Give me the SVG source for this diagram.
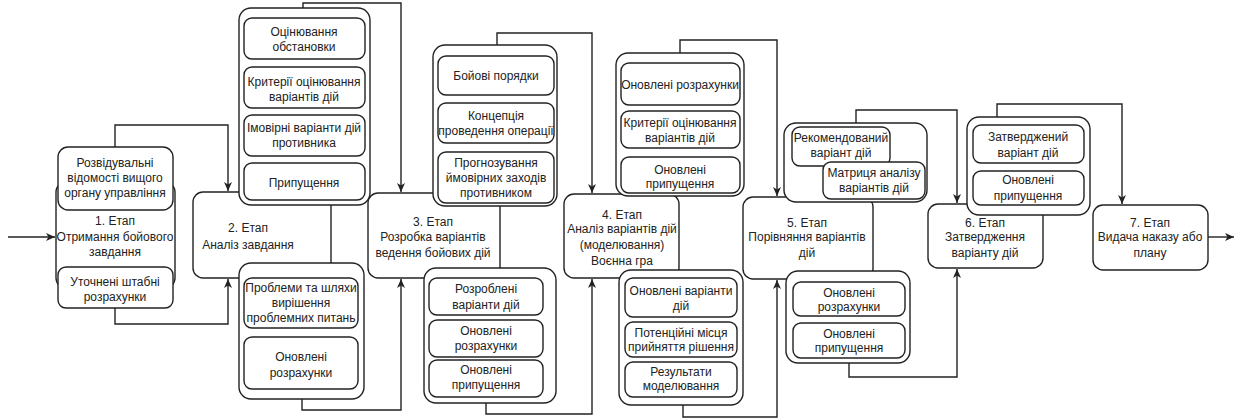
<svg xmlns="http://www.w3.org/2000/svg" width="1240" height="419" viewBox="0 0 1240 419">
<style>
.b{fill:#fff;stroke:#222;stroke-width:1.4}
.c{fill:none;stroke:#222;stroke-width:1.4}
text{font-family:"Liberation Sans",Arial,sans-serif;font-size:12px;fill:#222;text-anchor:middle}
</style>
<defs>
<marker id="a" markerUnits="userSpaceOnUse" markerWidth="10" markerHeight="10" viewBox="0 0 10 10" refX="9" refY="5" orient="auto">
<path d="M0,1 L9,5 L0,9 L2.5,5 Z" fill="#222"/>
</marker>
</defs>
<rect width="1240" height="419" fill="#fff"/>
<g id="connectors">
<path class="c" d="M8,237 H55" marker-end="url(#a)"/>
<path class="c" d="M115,147 V125 H228 V191" marker-end="url(#a)"/>
<path class="c" d="M115,308 V324 H228 V279" marker-end="url(#a)"/>
<path class="c" d="M303,8 V3 H401 V192" marker-end="url(#a)"/>
<path class="c" d="M302,399 V410 H401 V279" marker-end="url(#a)"/>
<path class="c" d="M497,45 V33 H592 V193" marker-end="url(#a)"/>
<path class="c" d="M486,403 V414 H592 V279" marker-end="url(#a)"/>
<path class="c" d="M680,53 V40 H777 V196" marker-end="url(#a)"/>
<path class="c" d="M683,405 V417 H777 V280" marker-end="url(#a)"/>
<path class="c" d="M856,123 V110 H957 V203" marker-end="url(#a)"/>
<path class="c" d="M849,363 V377 H957 V269" marker-end="url(#a)"/>
<path class="c" d="M997,117 V104 H1122 V204" marker-end="url(#a)"/>
<path class="c" d="M1208,237 H1234" marker-end="url(#a)"/>
</g>
<g id="stage1">
<rect class="b" x="56" y="182" width="119" height="106" rx="10"/>
<text x="115" y="225">1. Етап</text>
<text x="115" y="241">Отримання бойового</text>
<text x="115" y="256">завдання</text>
</g>
<g id="stage1-in">
<rect class="b" x="58" y="147" width="115" height="63" rx="10"/>
<text x="115" y="167">Розвідувальні</text>
<text x="115" y="182">відомості вищого</text>
<text x="115" y="197">органу управління</text>
</g>
<g id="stage1-out">
<rect class="b" x="58" y="267" width="115" height="41" rx="8"/>
<text x="115" y="286">Уточнені штабні</text>
<text x="115" y="301">розрахунки</text>
</g>
<g id="stage2">
<rect class="b" x="193" y="192" width="138" height="86" rx="10"/>
<text x="248" y="232">2. Етап</text>
<text x="248" y="249">Аналіз завдання</text>
</g>
<g id="stage2-in">
<rect class="b" x="239" y="8" width="131" height="197" rx="12"/>
<rect class="b" x="244" y="18" width="121" height="41" rx="8"/>
<text x="304" y="36">Оцінювання</text>
<text x="304" y="51">обстановки</text>
<rect class="b" x="244" y="67" width="121" height="41" rx="8"/>
<text x="304" y="86">Критерії оцінювання</text>
<text x="304" y="101">варіантів дій</text>
<rect class="b" x="244" y="115" width="121" height="41" rx="8"/>
<text x="304" y="132">Імовірні варіанти дій</text>
<text x="304" y="147">противника</text>
<rect class="b" x="244" y="163" width="121" height="37" rx="8"/>
<text x="304" y="187">Припущення</text>
</g>
<g id="stage2-out">
<rect class="b" x="239" y="263" width="125" height="136" rx="12"/>
<rect class="b" x="244" y="278" width="114" height="50" rx="8"/>
<text x="301" y="292">Проблеми та шляхи</text>
<text x="301" y="307">вирішення</text>
<text x="301" y="322">проблемних питань</text>
<rect class="b" x="244" y="337" width="114" height="52" rx="8"/>
<text x="301" y="361">Оновлені</text>
<text x="301" y="377">розрахунки</text>
</g>
<g id="stage3">
<rect class="b" x="368" y="193" width="132" height="85" rx="10"/>
<text x="433" y="226">3. Етап</text>
<text x="433" y="241">Розробка варіантів</text>
<text x="433" y="257">ведення бойових дій</text>
</g>
<g id="stage3-in">
<rect class="b" x="433" y="45" width="124" height="161" rx="12"/>
<rect class="b" x="438" y="56" width="116" height="39" rx="8"/>
<text x="496" y="80">Бойові порядки</text>
<rect class="b" x="438" y="103" width="116" height="40" rx="8"/>
<text x="496" y="120">Концепція</text>
<text x="496" y="135">проведення операції</text>
<rect class="b" x="438" y="152" width="116" height="51" rx="8"/>
<text x="496" y="167">Прогнозування</text>
<text x="496" y="182">ймовірних заходів</text>
<text x="496" y="197">противником</text>
</g>
<g id="stage3-out">
<rect class="b" x="424" y="268" width="132" height="135" rx="12"/>
<rect class="b" x="429" y="278" width="114" height="37" rx="8"/>
<text x="486" y="293">Розроблені</text>
<text x="486" y="309">варіанти дій</text>
<rect class="b" x="429" y="320" width="114" height="37" rx="8"/>
<text x="486" y="335">Оновлені</text>
<text x="486" y="350">розрахунки</text>
<rect class="b" x="429" y="360" width="114" height="37" rx="8"/>
<text x="486" y="374">Оновлені</text>
<text x="486" y="389">припущення</text>
</g>
<g id="stage4">
<rect class="b" x="564" y="194" width="115" height="84" rx="10"/>
<text x="622" y="219">4. Етап</text>
<text x="622" y="233">Аналіз варіантів дій</text>
<text x="622" y="249">(моделювання)</text>
<text x="622" y="265">Воєнна гра</text>
</g>
<g id="stage4-in">
<rect class="b" x="616" y="53" width="128" height="143" rx="12"/>
<rect class="b" x="621" y="63" width="119" height="42" rx="8"/>
<text x="680" y="89">Оновлені розрахунки</text>
<rect class="b" x="621" y="111" width="119" height="37" rx="8"/>
<text x="680" y="127">Критерії оцінювання</text>
<text x="680" y="142">варіантів дій</text>
<rect class="b" x="621" y="157" width="119" height="36" rx="8"/>
<text x="680" y="174">Оновлені</text>
<text x="680" y="188">припущення</text>
</g>
<g id="stage4-out">
<rect class="b" x="619" y="270" width="124" height="135" rx="12"/>
<rect class="b" x="625" y="278" width="112" height="39" rx="8"/>
<text x="681" y="295">Оновлені варіанти</text>
<text x="681" y="310">дій</text>
<rect class="b" x="625" y="322" width="112" height="35" rx="8"/>
<text x="681" y="337">Потенційні місця</text>
<text x="681" y="351">прийняття рішення</text>
<rect class="b" x="625" y="362" width="112" height="35" rx="8"/>
<text x="681" y="376">Результати</text>
<text x="681" y="390">моделювання</text>
</g>
<g id="stage5">
<rect class="b" x="743" y="197" width="130" height="82" rx="10"/>
<text x="807" y="227">5. Етап</text>
<text x="807" y="241">Порівняння варіантів</text>
<text x="807" y="257">дій</text>
</g>
<g id="stage5-in">
<rect class="b" x="784" y="123" width="143" height="79" rx="12"/>
<rect class="b" x="792" y="127" width="98" height="39" rx="8"/>
<text x="841" y="142">Рекомендований</text>
<text x="841" y="157">варіант дій</text>
<rect class="b" x="823" y="162" width="102" height="37" rx="8"/>
<text x="874" y="177">Матриця аналізу</text>
<text x="874" y="192">варіантів дій</text>
</g>
<g id="stage5-out">
<rect class="b" x="786" y="271" width="124" height="92" rx="12"/>
<rect class="b" x="793" y="282" width="112" height="34" rx="8"/>
<text x="849" y="297">Оновлені</text>
<text x="849" y="311">розрахунки</text>
<rect class="b" x="793" y="323" width="112" height="35" rx="8"/>
<text x="849" y="338">Оновлені</text>
<text x="849" y="352">припущення</text>
</g>
<g id="stage6">
<rect class="b" x="928" y="204" width="115" height="64" rx="10"/>
<text x="985" y="227">6. Етап</text>
<text x="985" y="241">Затвердження</text>
<text x="985" y="257">варіанту дій</text>
</g>
<g id="stage6-in">
<rect class="b" x="967" y="117" width="123" height="98" rx="12"/>
<rect class="b" x="973" y="125" width="111" height="38" rx="8"/>
<text x="1028" y="141">Затверджений</text>
<text x="1028" y="157">варіант дій</text>
<rect class="b" x="973" y="171" width="111" height="34" rx="8"/>
<text x="1028" y="184">Оновлені</text>
<text x="1028" y="200">припущення</text>
</g>
<g id="stage7">
<rect class="b" x="1093" y="205" width="115" height="65" rx="10"/>
<text x="1150" y="227">7. Етап</text>
<text x="1150" y="241">Видача наказу або</text>
<text x="1150" y="257">плану</text>
</g>
</svg>
